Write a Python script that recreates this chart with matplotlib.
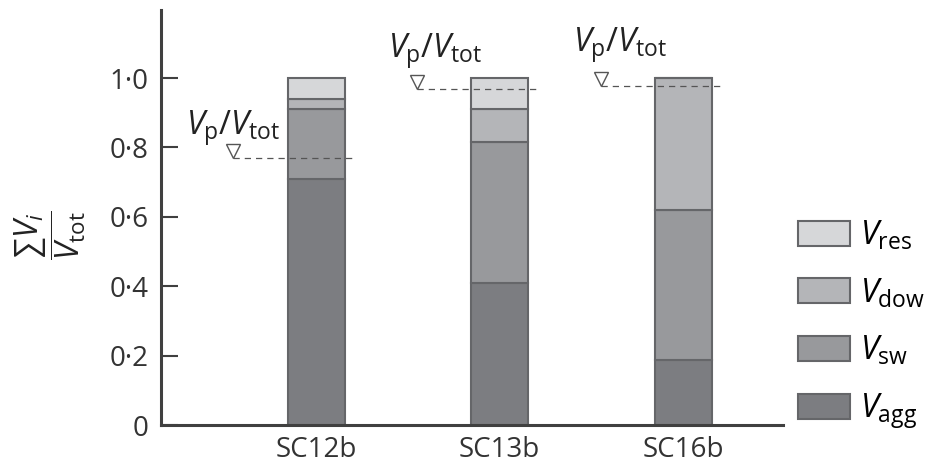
import matplotlib
matplotlib.use('Agg')
import matplotlib.pyplot as plt
import matplotlib.transforms as mtransforms
import numpy as np

# data
samples = ['SC12b', 'SC13b', 'SC16b']
v_agg = [0.71, 0.41, 0.187]
v_sw = [0.20, 0.405, 0.433]
v_dow = [0.03, 0.095, 0.38]
v_res = [0.06, 0.09, 0.0]
vp_vtot = [0.77, 0.967, 0.978]

yticks = [0, 0.2, 0.4, 0.6, 0.8, 1.0]
ytick_labels = ['0', '0·2', '0·4', '0·6', '0·8', '1·0']

colors = {'agg': '#7c7d81', 'sw': '#98999c', 'dow': '#b4b5b8', 'res': '#d6d7d9'}
edge = '#656669'
text_col = '#333333'

plt.rcParams['font.family'] = ['Open Sans', 'DejaVu Sans']
plt.rcParams['mathtext.fontset'] = 'custom'
plt.rcParams['mathtext.rm'] = 'Open Sans'
plt.rcParams['mathtext.it'] = 'Open Sans:italic'
plt.rcParams['mathtext.bf'] = 'Open Sans:bold'

fig = plt.figure(figsize=(9.3, 4.65), dpi=100)
ax = fig.add_axes([161 / 930, 1 - 425 / 465, (783 - 161) / 930, (425 - 10) / 465])

x = np.arange(len(samples))
w = 0.31
bottom = np.zeros(len(samples))
handles = {}
for key, vals in [('agg', v_agg), ('sw', v_sw), ('dow', v_dow), ('res', v_res)]:
    b = ax.bar(x, vals, w, bottom=bottom, color=colors[key], edgecolor=edge,
               linewidth=1.5, zorder=2)
    handles[key] = b
    bottom = bottom + np.array(vals)

# Vp/Vtot markers
up = mtransforms.offset_copy(ax.transData, fig=fig, x=0, y=7, units='dots')
txt_dx = [-47, -29, -28]
txt_dy = [23, 32, 34]
for i, vp in enumerate(vp_vtot):
    x0 = x[i] - 0.45
    ax.plot([x0, x[i] + 0.22], [vp, vp], ls=(0, (5, 4)), color='#555555',
            lw=0.9, zorder=3)
    ax.plot([x0], [vp], marker='v', ms=10, mfc='white', mec='#555555',
            mew=1.0, transform=up, zorder=3, clip_on=False)
    tr = mtransforms.offset_copy(ax.transData, fig=fig, x=txt_dx[i],
                                 y=txt_dy[i], units='dots')
    ax.text(x0, vp, r'$V_{\rm p}/V_{\rm tot}$', transform=tr, fontsize=23.5,
            ha='left', va='baseline', color='#222222')

ax.set_xlim(-0.844, 2.542)
ax.set_ylim(0, 1.196)
ax.set_xticks(x)
ax.set_xticklabels(samples)
ax.set_yticks(yticks)
ax.set_yticklabels(ytick_labels)
ax.tick_params(axis='y', direction='in', length=12, width=1.5, color='#404040',
               pad=9, labelsize=20, labelcolor=text_col)
ax.tick_params(axis='x', length=0, pad=8, labelsize=20, labelcolor=text_col)
for s in ['top', 'right']:
    ax.spines[s].set_visible(False)
for s in ['left', 'bottom']:
    ax.spines[s].set_linewidth(2.2)
    ax.spines[s].set_color('#404040')

fig.text(50 / 930, 1 - 235 / 465, r'$\dfrac{\sum V_i}{V_{\rm tot}}$',
         rotation=90, ha='center', va='center', fontsize=23, color='#222222')

leg = fig.legend([handles['res'], handles['dow'], handles['sw'], handles['agg']],
                 [r'$V_{\rm res}$', r'$V_{\rm dow}$', r'$V_{\rm sw}$', r'$V_{\rm agg}$'],
                 loc='lower left', bbox_to_anchor=(798 / 930, 1 - 431 / 465),
                 frameon=False, fontsize=23.5, handlelength=1.6, handleheight=0.8,
                 handletextpad=0.3, labelspacing=0.73, borderpad=0, borderaxespad=0)

fig.savefig('out.png', dpi=100)
